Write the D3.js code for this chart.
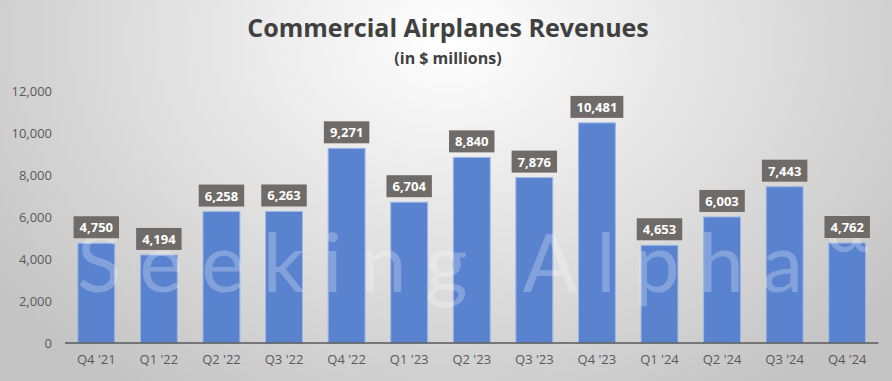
<!DOCTYPE html>
<html><head><meta charset="utf-8">
<script src="https://cdn.jsdelivr.net/npm/d3@7"></script>
<style>html,body{margin:0;padding:0;background:#fff}svg{display:block}</style>
</head><body>
<svg id="chart" width="892" height="381"></svg>
<script>
const categories = ["Q4 '21","Q1 '22","Q2 '22","Q3 '22","Q4 '22","Q1 '23","Q2 '23","Q3 '23","Q4 '23","Q1 '24","Q2 '24","Q3 '24","Q4 '24"];
const revenues = [4750,4194,6258,6263,9271,6704,8840,7876,10481,4653,6003,7443,4762];
const yTicks = [0,2000,4000,6000,8000,10000,12000];
const titleText = "Commercial Airplanes Revenues";
const subtitleText = "(in $ millions)";

const W = 892, H = 381;
const svg = d3.select("#chart");
const defs = svg.append("defs");
const grad = defs.append("radialGradient").attr("id","bg")
  .attr("gradientUnits","userSpaceOnUse").attr("cx",450).attr("cy",40).attr("r",560)
  .attr("gradientTransform","translate(450,40) scale(1,0.75) translate(-450,-40)");
grad.append("stop").attr("offset","0%").attr("stop-color","#ffffff");
grad.append("stop").attr("offset","100%").attr("stop-color","#c4c4c4");
svg.append("rect").attr("width",W).attr("height",H).attr("fill","url(#bg)");

const x = d3.scaleBand().domain(categories).range([65,878.5]).paddingInner(0.41).paddingOuter(0.205);
const y = d3.scaleLinear().domain([0,12000]).range([343,91]);

// title
svg.append("text").attr("x",448).attr("y",37).attr("text-anchor","middle")
  .attr("font-family","Open Sans, Noto Sans, sans-serif").attr("font-weight","bold").attr("font-size",25)
  .attr("fill","#404040").text(titleText);
svg.append("text").attr("x",448).attr("y",64).attr("text-anchor","middle")
  .attr("font-family","Open Sans, Noto Sans, sans-serif").attr("font-weight","bold").attr("font-size",16)
  .attr("fill","#404040").text(subtitleText);

// y axis
const yAxis = svg.append("g").attr("transform","translate(52,0)")
  .call(d3.axisLeft(y).tickValues(yTicks).tickSize(0).tickPadding(0).tickFormat(d3.format(",")));
yAxis.select(".domain").remove();
yAxis.selectAll("text").attr("font-family","Open Sans, Liberation Sans, sans-serif").attr("font-size",13).attr("fill","#595959");

// bars
svg.append("g").selectAll("rect").data(revenues).join("rect")
  .attr("x",(d,i)=>x(categories[i])).attr("width",x.bandwidth())
  .attr("y",d=>y(d)).attr("height",d=>y(0)-y(d))
  .attr("fill","#5a83cf").attr("stroke","#9fb8e6").attr("stroke-width",1);

// watermark
svg.append("text").attr("x",77).attr("y",292)
  .attr("font-family","Lato, DejaVu Sans, sans-serif").attr("font-weight",400).attr("font-size",82)
  .attr("textLength",726).attr("lengthAdjust","spacing")
  .attr("fill","#ffffff").attr("fill-opacity",0.25).text("Seeking Alpha");
svg.append("text").attr("x",826).attr("y",252)
  .attr("font-family","Lato, DejaVu Sans, sans-serif").attr("font-size",72)
  .attr("fill","#ffffff").attr("fill-opacity",0.25).text("α");

// x axis
const xAxis = svg.append("g").attr("transform","translate(0,343)")
  .call(d3.axisBottom(x).tickSize(0).tickPadding(12));
xAxis.select(".domain").attr("stroke","#595959").attr("stroke-width",1.5).attr("d","M65,0H878.5");
xAxis.selectAll("text").attr("font-family","Open Sans, Liberation Sans, sans-serif").attr("font-size",13).attr("fill","#595959");

// labels
const fmt = d3.format(",");
const lg = svg.append("g").selectAll("g").data(revenues).join("g")
  .attr("transform",(d,i)=>`translate(${x(categories[i])+x.bandwidth()/2},${y(d)-5})`);
lg.each(function(d){
  const g = d3.select(this);
  const t = g.append("text").attr("text-anchor","middle").attr("y",-6)
    .attr("font-family","Open Sans, Noto Sans, sans-serif").attr("font-weight","bold").attr("font-size",13)
    .attr("fill","#ffffff").text(fmt(d));
  const w = t.node().getComputedTextLength() + 12;
  g.insert("rect","text").attr("x",-w/2).attr("y",-22).attr("width",w).attr("height",22).attr("fill","#6f6b68");
});
</script>
</body></html>
